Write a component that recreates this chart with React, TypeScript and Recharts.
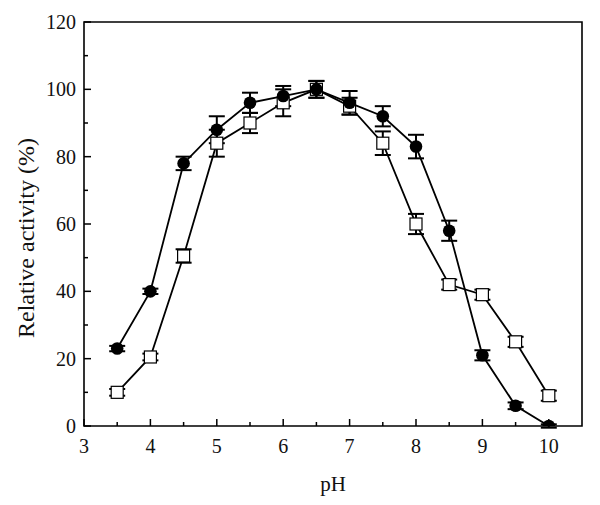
import { ComposedChart, Line, XAxis, YAxis, ErrorBar, ReferenceArea } from 'recharts'

// pH values shared by both series
const ph = [3.5, 4, 4.5, 5, 5.5, 6, 6.5, 7, 7.5, 8, 8.5, 9, 9.5, 10]

// filled circles
const circleActivity = [23, 40, 78, 88, 96, 98, 100, 96, 92, 83, 58, 21, 6, 0]
const circleError = [0.8, 0.8, 2, 4, 3, 3, 2.5, 3.5, 3, 3.5, 3, 1.5, 1, 0.5]

// open squares
const squareActivity = [10, 20.5, 50.5, 84, 90, 96, 100, 95, 84, 60, 42, 39, 25, 9]
const squareError = [1, 1, 2, 4, 3, 4, 2.5, 2.5, 3.5, 3, 1.5, 1.5, 1.5, 1.5]

const xTicks = [3, 3.5, 4, 4.5, 5, 5.5, 6, 6.5, 7, 7.5, 8, 8.5, 9, 9.5, 10]
const yTicks = [0, 10, 20, 30, 40, 50, 60, 70, 80, 90, 100, 110, 120]

const FONT = '"Liberation Serif", "Times New Roman", serif'
const INK = '#111'

const data = ph.map((p, i) => ({
  ph: p,
  circle: circleActivity[i],
  circleErr: circleError[i],
  square: squareActivity[i],
  squareErr: squareError[i],
}))

const isMajorX = (v: number) => Number.isInteger(v)
const isMajorY = (v: number) => v % 20 === 0

// tickSize=0 and tickMargin=0, so x/y passed in sit right on the axis line
function BottomTick({ x, y, payload }: any) {
  const v = payload.value
  const major = isMajorX(v)
  return (
    <g>
      <line x1={x} x2={x} y1={y} y2={y - (major ? 7 : 4)} stroke="#000" strokeWidth={1.5} />
      {major && (
        <text x={x} y={y + 27} textAnchor="middle" fontFamily={FONT} fontSize={20} fill={INK}>
          {v}
        </text>
      )}
    </g>
  )
}

function LeftTick({ x, y, payload }: any) {
  const v = payload.value
  const major = isMajorY(v)
  return (
    <g>
      <line x1={x} x2={x + (major ? 7 : 4)} y1={y} y2={y} stroke="#000" strokeWidth={1.5} />
      {major && (
        <text x={x - 8} y={y} dy="0.35em" textAnchor="end" fontFamily={FONT} fontSize={20} fill={INK}>
          {v}
        </text>
      )}
    </g>
  )
}

function RightTick({ x, y, payload }: any) {
  const major = isMajorY(payload.value)
  return <line x1={x} x2={x - (major ? 7 : 4)} y1={y} y2={y} stroke="#000" strokeWidth={1} />
}

const renderCircle = (props: any) => {
  const { cx, cy, index } = props
  return <circle key={`c-${index}`} cx={cx} cy={cy} r={6.3} fill="#000" />
}

const renderSquare = (props: any) => {
  const { cx, cy, index } = props
  return (
    <rect key={`s-${index}`} x={cx - 6} y={cy - 6} width={12} height={12} fill="#fff" stroke="#000" strokeWidth={1.2} />
  )
}

const yLabel = () => (
  <text
    x={0}
    y={0}
    transform="translate(34, 238) rotate(-90)"
    textAnchor="middle"
    fontFamily={FONT}
    fontSize={24}
    fill={INK}
  >
    Relative activity (%)
  </text>
)

export default function App() {
  return (
    <div style={{ position: 'absolute', left: 0, top: 0, width: 600, height: 505, background: '#fff' }}>
      <ComposedChart width={600} height={505} data={data} margin={{ top: 22, right: 0, bottom: 0, left: 0 }}>
        <XAxis
          dataKey="ph"
          type="number"
          domain={[3, 10.5]}
          ticks={xTicks}
          interval={0}
          height={79}
          axisLine={false}
          tickLine={false}
          tickSize={0}
          tickMargin={0}
          tick={<BottomTick />}
          label={{ value: 'pH', position: 'insideBottom', offset: 14, fontFamily: FONT, fontSize: 21, fill: INK }}
        />
        <YAxis
          type="number"
          domain={[0, 120]}
          allowDataOverflow
          ticks={yTicks}
          interval={0}
          width={84}
          axisLine={false}
          tickLine={false}
          tickSize={0}
          tickMargin={0}
          tick={<LeftTick />}
          label={yLabel}
        />
        <YAxis
          yAxisId="r"
          orientation="right"
          type="number"
          domain={[0, 120]}
          ticks={yTicks}
          interval={0}
          width={18}
          axisLine={false}
          tickLine={false}
          tickSize={0}
          tickMargin={0}
          tick={<RightTick />}
        />
        <ReferenceArea x1={3} x2={10.5} y1={0} y2={120} fill="none" stroke="#000" strokeWidth={1.6} />
        <Line
          dataKey="square"
          stroke="#000"
          strokeWidth={1.8}
          dot={renderSquare}
          activeDot={false}
          isAnimationActive={false}
        >
          <ErrorBar dataKey="squareErr" width={8} strokeWidth={2} stroke="#000" direction="y" />
        </Line>
        <Line
          dataKey="circle"
          stroke="#000"
          strokeWidth={1.8}
          dot={renderCircle}
          activeDot={false}
          isAnimationActive={false}
        >
          <ErrorBar dataKey="circleErr" width={8} strokeWidth={2} stroke="#000" direction="y" />
        </Line>
      </ComposedChart>
    </div>
  )
}
